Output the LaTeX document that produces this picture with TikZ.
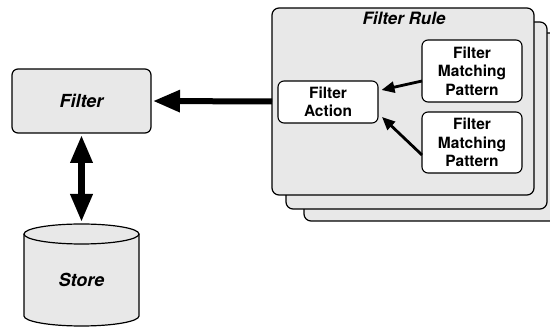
\documentclass[tikz,border=0pt]{standalone}
\usepackage{fontspec}
\setmainfont{TeX Gyre Heros}
\usetikzlibrary{arrows.meta}
\definecolor{panel}{RGB}{232,232,232}
\tikzset{
  x=1pt, y=-1pt,
  every node/.style={inner sep=0pt, outer sep=0pt},
  graybox/.style={draw, line width=1.2pt, fill=panel, rounded corners=7pt},
  whitebox/.style={draw, line width=1.1pt, fill=white, rounded corners=6pt,
    align=center, font=\fontsize{15.5}{18.5}\selectfont\bfseries},
  bigarrow/.style={line width=6pt, -{Triangle[length=27pt,width=21pt]}},
  twoarrow/.style={line width=6.5pt, {Triangle[length=28pt,width=21pt]}-{Triangle[length=28pt,width=21pt]}},
  smallarrow/.style={line width=2.8pt, -{Triangle[length=13pt,width=11pt]}},
  bigtext/.style={font=\fontsize{18}{20}\selectfont\bfseries\itshape},
}
\begin{document}
\begin{tikzpicture}
\useasboundingbox (0,0) rectangle (550,328);
\clip (0,0) rectangle (550,328);

% stacked rule cards (back to front)
\node[graybox, minimum width=262pt, minimum height=188pt] (rule3) at (435,127) {};
\node[graybox, minimum width=261pt, minimum height=187pt] (rule2) at (416.5,115.5) {};
\node[graybox, minimum width=262pt, minimum height=187pt] (rule1) at (403,101.5) {};
\node[font=\fontsize{17}{19}\selectfont\bfseries\itshape] (title) at (404,18) {Filter Rule};

% rule contents
\node[whitebox, minimum width=100pt, minimum height=42pt] (action) at (328,102) {Filter\\Action};
\node[whitebox, minimum width=100pt, minimum height=62pt] (fmp1) at (472,71) {Filter\\Matching\\Pattern};
\node[whitebox, minimum width=100pt, minimum height=61pt] (fmp2) at (472,142.5) {Filter\\Matching\\Pattern};

\draw[smallarrow] ([yshift=-10pt]fmp1.west) -- ([shift={(3.5pt,12pt)}]action.east);
\draw[smallarrow] ([yshift=-12.5pt]fmp2.west) -- ([shift={(4pt,-15pt)}]action.east);

% filter
\node[graybox, rounded corners=6pt, minimum width=139pt, minimum height=64pt, bigtext] (filter) at (81.5,101) {Filter};

% store cylinder
\coordinate (storetop) at (81.5,224);
\draw[line width=1.2pt, fill=panel] (24,234) -- (24,316)
  arc[start angle=180, end angle=360, x radius=57.5pt, y radius=10pt] -- (139,234)
  arc[start angle=0, end angle=180, x radius=57.5pt, y radius=10pt] -- cycle;
\draw[line width=1.2pt] (24,234) arc[start angle=180, end angle=360, x radius=57.5pt, y radius=10pt];
\node[bigtext] (store) at (81.5,280) {Store};

% connectors
\draw[bigarrow, shorten >=2pt] (rule1.west) -- (filter.east);
\draw[twoarrow, shorten <=2pt, shorten >=2pt] (filter.south) -- (storetop);
\end{tikzpicture}
\end{document}
